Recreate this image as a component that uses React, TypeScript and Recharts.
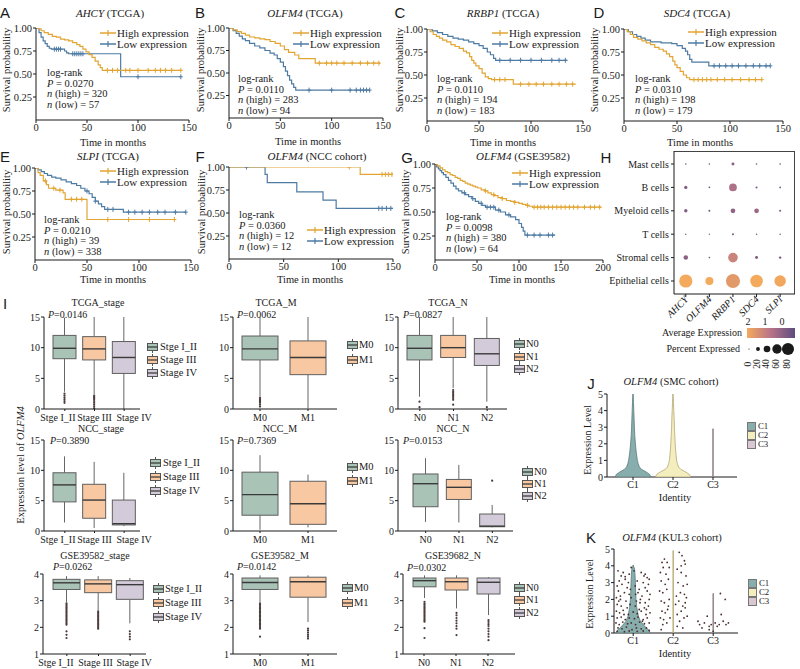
import React from 'react';
import { ComposedChart, Line, Scatter, XAxis, YAxis, Bar } from 'recharts';

const SERIF = '"Liberation Serif", "Times New Roman", serif';
const SANS = '"Liberation Sans", Arial, sans-serif';
const HIGH_C = '#e2a534';
const LOW_C = '#4e7ba4';
const INK = '#1a1a1a';

// ---------------- Kaplan-Meier data: [time, survival] ----------------
const A_HIGH = [[0,1],[3,0.99],[5,0.97],[8,0.95],[12,0.93],[16,0.91],[20,0.9],[24,0.88],[28,0.87],[32,0.86],[36,0.84],[40,0.82],[43,0.8],[46,0.77],[49,0.74],[52,0.71],[55,0.68],[58,0.64],[61,0.6],[63,0.57],[65,0.54],[142,0.54]];
const A_LOW = [[0,1],[3,0.95],[5,0.9],[7,0.86],[9,0.83],[11,0.8],[13,0.78],[15,0.77],[28,0.75],[30,0.73],[32,0.72],[83,0.47],[142,0.47]];
const A_HC = [70,75,80,88,92,100,110,117,122,127,133,142];
const A_LC = [18,20,22,24,36,38,40,42,44,46,100,142];

const B_HIGH = [[0,1],[4,0.98],[8,0.96],[12,0.94],[16,0.92],[20,0.9],[25,0.89],[30,0.88],[35,0.87],[40,0.85],[45,0.83],[50,0.8],[54,0.76],[58,0.73],[64,0.7],[68,0.66],[84,0.61],[147,0.61]];
const B_LOW = [[0,1],[4,0.97],[7,0.94],[10,0.91],[13,0.88],[16,0.86],[20,0.83],[25,0.8],[30,0.78],[35,0.75],[40,0.72],[44,0.7],[47,0.66],[50,0.62],[53,0.57],[55,0.52],[57,0.47],[59,0.42],[61,0.38],[63,0.34],[65,0.31],[137,0.31]];
const B_HC = [88,95,100,105,112,120,128,135,141,146];
const B_LC = [78,100,118,124,128,131,134,137];

const C_HIGH = [[0,1],[3,0.97],[6,0.94],[9,0.92],[12,0.9],[15,0.88],[19,0.86],[23,0.83],[27,0.81],[31,0.79],[35,0.76],[38,0.74],[41,0.7],[43,0.66],[45,0.63],[47,0.6],[50,0.57],[53,0.52],[56,0.48],[59,0.46],[62,0.45],[83,0.4],[143,0.4]];
const C_LOW = [[0,1],[5,0.98],[10,0.96],[15,0.94],[20,0.92],[25,0.9],[30,0.89],[35,0.88],[40,0.86],[45,0.84],[50,0.82],[54,0.79],[58,0.75],[61,0.72],[64,0.68],[66,0.66],[135,0.66]];
const C_HC = [65,70,75,90,98,105,112,120,127,134,140];
const C_LC = [70,80,90,100,110,120,127,133];

const D_HIGH = [[0,1],[3,0.97],[6,0.94],[9,0.91],[13,0.89],[17,0.87],[21,0.85],[25,0.83],[29,0.8],[33,0.78],[37,0.76],[40,0.73],[43,0.7],[46,0.65],[48,0.61],[50,0.58],[53,0.54],[56,0.5],[59,0.47],[62,0.45],[130,0.45]];
const D_LOW = [[0,1],[4,0.97],[8,0.94],[12,0.92],[16,0.9],[20,0.88],[25,0.86],[35,0.85],[45,0.84],[50,0.82],[55,0.79],[58,0.76],[60,0.72],[62,0.67],[64,0.64],[80,0.6],[138,0.6]];
const D_HC = [66,70,74,78,82,88,95,102,110,118,124,130];
const D_LC = [85,90,96,102,108,115,122,128,134,138];

const E_HIGH = [[0,1],[3,0.95],[5,0.92],[8,0.86],[11,0.82],[13,0.78],[20,0.76],[27,0.73],[29,0.66],[50,0.44],[134,0.44]];
const E_LOW = [[0,1],[3,0.98],[6,0.96],[9,0.94],[12,0.92],[16,0.9],[20,0.89],[25,0.87],[30,0.85],[35,0.83],[40,0.81],[44,0.78],[48,0.75],[52,0.72],[55,0.68],[58,0.64],[61,0.61],[64,0.58],[67,0.55],[85,0.52],[145,0.52]];
const E_HC = [10,18,24,35,40,45,70,90,110,134];
const E_LC = [50,58,70,75,90,96,103,110,118,125,135,145];

const F_HIGH = [[0,1],[120,0.92],[150,0.92]];
const F_LOW = [[0,1],[33,0.92],[35,0.83],[62,0.73],[86,0.64],[98,0.55],[150,0.55]];
const F_HC = [110,140,143,146,149];
const F_LC = [16,137,140,144,148];

const G_HIGH = [[0,1],[3,0.98],[6,0.96],[9,0.94],[12,0.92],[15,0.91],[18,0.89],[21,0.88],[24,0.86],[27,0.85],[30,0.83],[33,0.82],[36,0.8],[39,0.79],[42,0.78],[45,0.77],[48,0.76],[51,0.75],[55,0.73],[59,0.72],[63,0.7],[67,0.68],[71,0.67],[75,0.65],[80,0.64],[85,0.62],[90,0.61],[95,0.6],[100,0.59],[104,0.58],[108,0.57],[112,0.56],[116,0.55],[198,0.55]];
const G_LOW = [[0,1],[2,0.97],[4,0.95],[6,0.93],[8,0.91],[10,0.89],[13,0.86],[16,0.83],[19,0.8],[22,0.77],[25,0.74],[28,0.72],[32,0.7],[36,0.68],[40,0.66],[44,0.64],[48,0.61],[52,0.59],[56,0.57],[60,0.55],[72,0.52],[78,0.5],[84,0.47],[90,0.45],[96,0.42],[100,0.38],[103,0.34],[105,0.3],[107,0.26],[143,0.26]];
const G_HC = [60,70,80,95,110,118,122,126,130,135,140,145,150,155,160,165,170,178,185,190,196];
const G_LC = [35,45,55,62,66,70,76,88,110,118,125,135,140];

const KM_PANELS = [
  { letter: 'A', lx: 5, ly: 12, gene: 'AHCY', cohort: ' (TCGA)', tx: 110, ty: 13, plot: { l: 36, r: 189, t: 28, b: 120 }, xMax: 150, xTicks: [0, 50, 100, 150], high: A_HIGH, low: A_LOW, hc: A_HC, lc: A_LC, leg: { x: 100, y: 33 }, st: { x: 47, y: 73 }, p: '0.0270', nh: 320, nl: 57, ylx: 7, yly: 70, xlx: 113, xly: 143 },
  { letter: 'B', lx: 200, ly: 12, gene: 'OLFM4', cohort: ' (TCGA)', tx: 305, ty: 13, plot: { l: 229, r: 383, t: 28, b: 118 }, xMax: 150, xTicks: [0, 50, 100, 150], high: B_HIGH, low: B_LOW, hc: B_HC, lc: B_LC, leg: { x: 293, y: 33 }, st: { x: 238, y: 79 }, p: '0.0110', nh: 283, nl: 94, ylx: 201, yly: 70, xlx: 308, xly: 142 },
  { letter: 'C', lx: 400, ly: 12, gene: 'RRBP1', cohort: ' (TCGA)', tx: 503, ty: 13, plot: { l: 427, r: 583, t: 29, b: 121 }, xMax: 150, xTicks: [0, 50, 100, 150], high: C_HIGH, low: C_LOW, hc: C_HC, lc: C_LC, leg: { x: 492, y: 33 }, st: { x: 437, y: 79 }, p: '0.0110', nh: 194, nl: 183, ylx: 400, yly: 70, xlx: 503, xly: 143 },
  { letter: 'D', lx: 599, ly: 12, gene: 'SDC4', cohort: ' (TCGA)', tx: 697, ty: 13, plot: { l: 624, r: 783, t: 29, b: 121 }, xMax: 150, xTicks: [0, 50, 100, 150], high: D_HIGH, low: D_LOW, hc: D_HC, lc: D_LC, leg: { x: 688, y: 32 }, st: { x: 635, y: 79 }, p: '0.0310', nh: 198, nl: 179, ylx: 595, yly: 70, xlx: 700, xly: 143 },
  { letter: 'E', lx: 5, ly: 156, gene: 'SLPI', cohort: ' (TCGA)', tx: 108, ty: 156, plot: { l: 35, r: 191, t: 168, b: 260 }, xMax: 150, xTicks: [0, 50, 100, 150], high: E_HIGH, low: E_LOW, hc: E_HC, lc: E_LC, leg: { x: 100, y: 171 }, st: { x: 44, y: 220 }, p: '0.0210', nh: 39, nl: 338, ylx: 7, yly: 212, xlx: 113, xly: 280 },
  { letter: 'F', lx: 200, ly: 156, gene: 'OLFM4', cohort: ' (NCC cohort)', tx: 317, ty: 156, plot: { l: 229, r: 393, t: 167, b: 259 }, xMax: 150, xTicks: [0, 50, 100, 150], high: F_HIGH, low: F_LOW, hc: F_HC, lc: F_LC, leg: { x: 307, y: 230 }, st: { x: 239, y: 215 }, p: '0.0360', nh: 12, nl: 12, ylx: 202, yly: 212, xlx: 310, xly: 280 },
  { letter: 'G', lx: 407, ly: 157, gene: 'OLFM4', cohort: ' (GSE39582)', tx: 523, ty: 156, plot: { l: 435, r: 603, t: 164, b: 260 }, xMax: 200, xTicks: [0, 50, 100, 150, 200], high: G_HIGH, low: G_LOW, hc: G_HC, lc: G_LC, leg: { x: 512, y: 173 }, st: { x: 446, y: 217 }, p: '0.0098', nh: 380, nl: 64, ylx: 406, yly: 212, xlx: 522, xly: 280 },
];

// ---------------- Dot plot (H) ----------------
const GENES = ['AHCY', 'OLFM4', 'RRBP1', 'SDC4', 'SLPI'];
const CELLS = ['Epithelial cells', 'Stromal cells', 'T cells', 'Myeloid cells', 'B cells', 'Mast cells'];
const PCT = [
  [88, 50, 95, 84, 76],
  [24, 3, 62, 13, 9],
  [2, 1, 6, 2, 2],
  [16, 5, 26, 26, 6],
  [15, 3, 48, 6, 4],
  [3, 2, 13, 3, 3],
];
const AVG = [
  [2.0, 2.0, 1.7, 2.0, 1.95],
  [0.5, 0.2, 1.3, 0.4, 0.3],
  [0.2, 0.1, 0.3, 0.2, 0.2],
  [0.4, 0.2, 0.6, 0.7, 0.3],
  [0.4, 0.1, 0.9, 0.3, 0.2],
  [0.2, 0.1, 0.5, 0.2, 0.2],
];
const PCT_LEGEND = [0, 20, 40, 60, 80];
const AVG_LEGEND = ['2', '1', '0'];

// ---------------- Box plots (I): [lower whisker, q1, median, q3, upper whisker] ----------------
const STAGE_CATS = ['Stge I_II', 'Stage III', 'Stage IV'];
const M_CATS = ['M0', 'M1'];
const N_CATS = ['N0', 'N1', 'N2'];

const TCGA_STAGE = [[2.8, 8.2, 9.9, 12.0, 14.9], [2.4, 8.0, 9.8, 11.8, 15], [0, 5.8, 8.4, 11.0, 15]];
const TCGA_STAGE_OUT = [[2.5, 2.2, 1.9, 1.6, 1.3, 1.0], [2.2, 2.0, 1.8, 1.6, 1.3, 1.0, 0.7, 0.4, 0.1], []];
const TCGA_M = [[2.0, 8.0, 9.8, 11.9, 15], [0.1, 5.6, 8.4, 11.1, 15]];
const TCGA_M_OUT = [[1.8, 1.6, 1.4, 1.2, 1.0, 0.7, 0.4], []];
const TCGA_N = [[2.0, 8.0, 9.9, 12.0, 15], [3.4, 8.4, 10.0, 12.0, 15], [1.2, 7.1, 9.0, 11.5, 15]];
const TCGA_N_OUT = [[1.2, 0.3], [3.1, 2.8, 2.6, 2.3, 2.1, 1.8, 1.5, 0.7], [0.3]];

const NCC_STAGE = [[1.4, 4.8, 7.6, 9.6, 12.3], [0.5, 2.1, 5.1, 7.7, 11.4], [0.8, 1.0, 1.2, 5.1, 9.6]];
const NCC_M = [[0.2, 2.6, 6.0, 9.7, 12.5], [0.6, 1.1, 4.5, 8.2, 9.3]];
const NCC_N = [[1.5, 4.0, 7.8, 9.4, 12.0], [1.4, 5.2, 7.2, 8.5, 10.9], [0.6, 0.7, 0.8, 2.8, 4.3]];
const NCC_N_OUT = [[], [], [8.3]];

const GSE_STAGE = [[2.95, 3.42, 3.67, 3.8, 3.92], [2.65, 3.3, 3.63, 3.78, 3.92], [2.15, 3.05, 3.6, 3.75, 3.85]];
const GSE_STAGE_OUT = [
  [2.9, 2.85, 2.8, 2.75, 2.7, 2.65, 2.6, 2.55, 2.5, 2.45, 2.4, 2.35, 2.3, 2.25, 2.2, 2.15, 2.1, 1.85, 1.72, 1.6],
  [2.6, 2.55, 2.5, 2.45, 2.4, 2.35, 2.3, 2.25, 2.2, 2.15, 2.1, 2.05, 2.0, 1.95],
  [1.85, 1.75, 1.65, 1.55],
];
const GSE_M = [[2.95, 3.42, 3.68, 3.85, 3.95], [2.2, 3.13, 3.71, 3.88, 3.95]];
const GSE_M_OUT = [
  [2.9, 2.85, 2.8, 2.75, 2.7, 2.65, 2.6, 2.55, 2.5, 2.45, 2.4, 2.35, 2.3, 2.25, 2.2, 2.15, 2.1, 2.05, 2.0, 1.95, 1.65],
  [1.95, 1.88, 1.8, 1.72, 1.65, 1.58],
];
const GSE_N = [[3.1, 3.52, 3.75, 3.85, 3.95], [2.71, 3.4, 3.71, 3.85, 3.95], [2.46, 3.25, 3.69, 3.85, 3.88]];
const GSE_N_OUT = [
  [2.96, 2.9, 2.85, 2.8, 2.75, 2.7, 2.65, 2.6, 2.55, 2.5, 2.45, 2.4, 2.35, 2.3, 2.25, 2.21, 1.97, 1.6],
  [2.54, 2.45, 2.35, 2.25, 2.15, 2.05, 1.95, 1.71],
  [2.27, 2.2, 2.12, 2.05, 1.95, 1.85, 1.75, 1.65, 1.52],
];

const BOX_FILLS = ['#a9c3b7', '#f8c8a2', '#d3cbd9'];

const BOX_PANELS = [
  { title: 'TCGA_stage', tx: 98, ty: 303, p: '0.0146', px: 48, py: 315, plot: { l: 44, r: 140, t: 317, b: 409 }, mr: 22, dom: [0, 15], ticks: [0, 5, 10, 15], cats: STAGE_CATS, stats: TCGA_STAGE, outs: TCGA_STAGE_OUT, bar: 23, pad: { left: 6, right: 1 }, lab: [-7, 0, 10], leg: { ix: 152, tx: 160, ys: [347, 360, 373] } },
  { title: 'TCGA_M', tx: 276, ty: 303, p: '0.0062', px: 237, py: 315, plot: { l: 233, r: 337, t: 317, b: 409 }, mr: 2, dom: [0, 15], ticks: [0, 5, 10, 15], cats: M_CATS, stats: TCGA_M, outs: TCGA_M_OUT, bar: 36, pad: { left: 3, right: 5 }, lab: [0, 0], leg: { ix: 352, tx: 359, ys: [345, 360] } },
  { title: 'TCGA_N', tx: 448, ty: 303, p: '0.0827', px: 403, py: 315, plot: { l: 398, r: 507, t: 317, b: 409 }, mr: 2, dom: [0, 15], ticks: [0, 5, 10, 15], cats: N_CATS, stats: TCGA_N, outs: TCGA_N_OUT, bar: 25, pad: { left: 5, right: 3 }, lab: [0, 0, 0], leg: { ix: 519, tx: 526, ys: [344, 357, 369] } },
  { title: 'NCC_stage', tx: 101, ty: 429, p: '0.3890', px: 50, py: 441, plot: { l: 44, r: 140, t: 440, b: 531 }, mr: 22, dom: [0, 15], ticks: [0, 5, 10, 15], cats: STAGE_CATS, stats: NCC_STAGE, outs: [[], [], []], bar: 23, pad: { left: 6, right: 1 }, lab: [-7, 0, 10], leg: { ix: 155, tx: 163, ys: [463, 477, 491] } },
  { title: 'NCC_M', tx: 280, ty: 429, p: '0.7369', px: 237, py: 441, plot: { l: 233, r: 337, t: 440, b: 531 }, mr: 2, dom: [0, 15], ticks: [0, 5, 10, 15], cats: M_CATS, stats: NCC_M, outs: [[], []], bar: 36, pad: { left: 3, right: 5 }, lab: [0, 0], leg: { ix: 352, tx: 359, ys: [467, 481] } },
  { title: 'NCC_N', tx: 453, ty: 429, p: '0.0153', px: 403, py: 441, plot: { l: 398, r: 513, t: 440, b: 531 }, mr: 2, dom: [0, 15], ticks: [0, 5, 10, 15], cats: N_CATS, stats: NCC_N, outs: NCC_N_OUT, bar: 25, pad: { left: 11, right: 4 }, lab: [0, 0, 0], leg: { ix: 527, tx: 534, ys: [472, 484, 496] } },
  { title: 'GSE39582_stage', tx: 95, ty: 556, p: '0.0262', px: 53, py: 567, plot: { l: 43, r: 146, t: 574, b: 654 }, mr: 16, dom: [1, 4], ticks: [1, 2, 3, 4], cats: STAGE_CATS, stats: GSE_STAGE, outs: GSE_STAGE_OUT, bar: 27, pad: { left: 8, right: 0 }, lab: [-11, -3, 4], leg: { ix: 158, tx: 165, ys: [589, 603, 617] } },
  { title: 'GSE39582_M', tx: 280, ty: 556, p: '0.0142', px: 237, py: 567, plot: { l: 233, r: 337, t: 574, b: 654 }, mr: 2, dom: [1, 4], ticks: [1, 2, 3, 4], cats: M_CATS, stats: GSE_M, outs: GSE_M_OUT, bar: 36, pad: { left: 3, right: 5 }, lab: [0, 0], leg: { ix: 347, tx: 354, ys: [588, 603] } },
  { title: 'GSE39682_N', tx: 453, ty: 556, p: '0.0302', px: 407, py: 568, plot: { l: 403, r: 515, t: 574, b: 654 }, mr: 2, dom: [1, 4], ticks: [1, 2, 3, 4], cats: N_CATS, stats: GSE_N, outs: GSE_N_OUT, bar: 23, pad: { left: 5, right: 11 }, lab: [0, 0, 0], leg: { ix: 519, tx: 526, ys: [588, 600, 613] } },
];

// ---------------- Violins (J, K): [level, half width in category units] ----------------
const CLUSTERS = ['C1', 'C2', 'C3'];
const J_C1 = [[0, 0.44], [0.15, 0.42], [0.3, 0.33], [0.45, 0.22], [0.6, 0.16], [0.8, 0.13], [1, 0.11], [1.5, 0.08], [2, 0.06], [2.5, 0.045], [3, 0.035], [3.5, 0.028], [4, 0.02], [4.5, 0.012], [5, 0.004]];
const J_C2 = [[0, 0.44], [0.15, 0.41], [0.3, 0.32], [0.45, 0.2], [0.6, 0.14], [0.8, 0.11], [1, 0.09], [1.5, 0.07], [2, 0.055], [2.5, 0.045], [3, 0.035], [3.5, 0.03], [4, 0.02], [4.5, 0.012], [5, 0.004]];
const J_C3 = [[0, 0.008], [2.9, 0.008]];
const K_C1 = [[0, 0.42], [0.15, 0.4], [0.3, 0.33], [0.5, 0.25], [0.7, 0.18], [1, 0.13], [1.5, 0.09], [2, 0.07], [2.5, 0.06], [3, 0.055], [3.5, 0.045], [3.8, 0.035], [4.05, 0]];
const K_C2 = [[0, 0.008], [4.9, 0.008]];
const K_C3 = [[0, 0.008], [2.35, 0.008]];
const K_PTS = [
  [0.62,3.7],[0.7,3.4],[0.75,3.6],[0.9,3.5],[1.2,3.6],[1.3,3.5],[1.35,3.3],[0.65,3.1],[0.8,3.2],[1.1,3.1],[1.25,3.0],[1.4,3.2],[0.6,2.8],[0.72,2.9],[0.85,2.7],[1.05,2.8],[1.15,2.6],[1.3,2.7],[1.38,2.9],[0.63,2.5],[0.78,2.4],[0.9,2.3],[1.12,2.4],[1.22,2.2],[1.35,2.5],[1.42,2.3],[0.58,2.1],[0.68,2.0],[0.82,1.9],[0.95,2.1],[1.08,1.9],[1.18,2.0],[1.3,1.8],[1.4,2.0],[0.6,1.7],[0.7,1.6],[0.85,1.5],[0.92,1.7],[1.05,1.6],[1.15,1.4],[1.28,1.5],[1.38,1.6],[0.58,1.3],[0.66,1.2],[0.75,1.35],[0.88,1.1],[1.0,1.25],[1.1,1.15],[1.2,1.3],[1.32,1.1],[1.42,1.2],[0.6,0.9],[0.7,0.95],[0.8,0.8],[0.9,0.9],[1.03,0.85],[1.12,0.95],[1.25,0.8],[1.35,0.9],[0.57,0.6],[0.65,0.5],[0.74,0.65],[0.86,0.55],[0.95,0.6],[1.06,0.5],[1.16,0.65],[1.28,0.55],[1.4,0.6],[0.62,0.3],[0.72,0.25],[0.83,0.35],[0.97,0.2],[1.08,0.3],[1.2,0.25],[1.33,0.3],[0.6,0.1],[0.78,0.08],[0.9,0.12],[1.1,0.1],[1.25,0.12],[1.4,0.15],[0.95,3.9],[1.02,3.7],[0.68,2.2],[1.27,3.4],[0.88,3.0],[1.17,1.8],[0.77,1.1],[1.23,0.7],[0.93,2.6],[1.33,1.4],[0.64,1.9],[1.06,2.3],[0.8,3.35],
  [1.72,4.2],[1.78,4.4],[1.85,4.2],[1.9,3.9],[2.15,4.8],[2.22,4.6],[2.28,4.3],[2.3,4.1],[1.68,3.6],[1.75,3.9],[1.82,3.5],[2.1,3.8],[2.2,3.6],[2.32,3.4],[1.7,3.1],[1.8,2.9],[1.88,3.2],[2.12,3.0],[2.25,2.8],[2.35,2.9],[1.66,2.5],[1.74,2.4],[1.84,2.6],[2.08,2.2],[2.18,2.4],[2.28,2.3],[2.33,2.1],[1.7,1.9],[1.78,1.8],[1.9,2.0],[2.06,1.7],[2.14,1.9],[2.24,1.6],[2.3,1.5],[1.72,1.3],[1.8,1.2],[1.86,1.4],[2.1,1.1],[2.2,1.3],[2.35,1.0],[1.68,0.9],[1.76,0.8],[1.92,0.9],[2.16,0.7],[2.27,0.9],[1.74,0.5],[1.84,0.6],[2.1,0.4],[1.7,0.2],[2.24,0.3],[2.3,1.8],[1.88,1.6],[2.2,4.0],
  [2.62,0.7],[2.66,0.5],[2.72,0.3],[2.78,0.6],[2.85,1.0],[2.9,0.4],[2.95,0.5],[3.05,0.6],[3.1,0.4],[3.15,0.5],[3.2,1.1],[3.25,0.7],[3.32,0.5],[3.38,0.6],[3.18,2.35],[3.3,2.0],[2.9,0.2],[3.0,0.1],
];
const VIOLIN_FILLS = ['#87aead', '#f4edbd', '#d9c7d4'];
const VIOLIN_STROKES = ['#5b7b7a', '#b4a877', '#8a7a85'];

// ---------------- helpers ----------------
const Tx = ({ x, y, a = 's', s = 11, rot = 0, f = SERIF, c = INK, children }: any) => {
  const tx = a === 'm' ? '-50%' : a === 'e' ? '-100%' : '0%';
  return (
    <div
      style={{
        position: 'absolute', left: x, top: y,
        transform: `translate(${tx},-50%)${rot ? ` rotate(${rot}deg)` : ''}`,
        fontSize: s, fontFamily: f, color: c, whiteSpace: 'nowrap', lineHeight: 1,
      }}
    >
      {children}
    </div>
  );
};

const stepAt = (curve: number[][], t: number) => {
  let s = curve[0][1];
  for (const [tt, ss] of curve) {
    if (tt <= t) s = ss;
    else break;
  }
  return s;
};

const plusShape = (color: string) => (p: any) => (
  <g>
    <line x1={p.cx} x2={p.cx} y1={p.cy - 2.5} y2={p.cy + 2.5} stroke={color} strokeWidth={1} />
    <line x1={p.cx - 2} x2={p.cx + 2} y1={p.cy} y2={p.cy} stroke={color} strokeWidth={1} />
  </g>
);

const tickStyle = (size: number) => ({ fontSize: size, fill: INK, fontFamily: SERIF });

const KMKey = ({ x, y, color }: any) => (
  <svg style={{ position: 'absolute', left: x, top: y - 4 }} width={16} height={8}>
    <line x1={0} x2={16} y1={4} y2={4} stroke={color} strokeWidth={1.5} />
    <line x1={8} x2={8} y1={1} y2={7} stroke={color} strokeWidth={1.2} />
  </svg>
);

function KMBlock({ p }: any) {
  const yw = 40, mt = 6, mr = 10, xh = 22;
  const w = p.plot.r - p.plot.l + yw + mr;
  const h = p.plot.b - p.plot.t + mt + xh;
  const hi = p.high.map(([t, s]: number[]) => ({ t, s }));
  const lo = p.low.map(([t, s]: number[]) => ({ t, s }));
  const hc = p.hc.map((t: number) => ({ t, s: stepAt(p.high, t) }));
  const lc = p.lc.map((t: number) => ({ t, s: stepAt(p.low, t) }));
  const lh = 10.5;
  return (
    <>
      <Tx x={p.lx} y={p.ly} a="m" s={15} f={SANS}>{p.letter}</Tx>
      <Tx x={p.tx} y={p.ty} a="m" s={11}><i>{p.gene}</i>{p.cohort}</Tx>
      <div style={{ position: 'absolute', left: p.plot.l - yw, top: p.plot.t - mt }}>
        <ComposedChart width={w} height={h} margin={{ top: mt, right: mr, bottom: 0, left: 0 }}>
          <XAxis type="number" dataKey="t" domain={[0, p.xMax]} ticks={p.xTicks} allowDataOverflow interval={0}
            height={xh} tickSize={3} tickMargin={1} tick={tickStyle(10.5)} axisLine={{ stroke: INK }} tickLine={{ stroke: INK }} />
          <YAxis type="number" domain={[0, 1]} ticks={[0.25, 0.5, 0.75, 1]} allowDataOverflow interval={0}
            tickFormatter={(v: number) => v.toFixed(2)} width={yw} tickSize={3} tickMargin={1} tick={tickStyle(10.5)}
            axisLine={{ stroke: INK }} tickLine={{ stroke: INK }} />
          <Line data={lo} dataKey="s" type="stepAfter" stroke={LOW_C} strokeWidth={1.2} dot={false} isAnimationActive={false} />
          <Line data={hi} dataKey="s" type="stepAfter" stroke={HIGH_C} strokeWidth={1.2} dot={false} isAnimationActive={false} />
          <Scatter data={lc} dataKey="s" shape={plusShape(LOW_C)} isAnimationActive={false} />
          <Scatter data={hc} dataKey="s" shape={plusShape(HIGH_C)} isAnimationActive={false} />
        </ComposedChart>
      </div>
      <Tx x={p.ylx} y={p.yly} a="m" rot={-90} s={10.5}>Survival probability</Tx>
      <Tx x={p.xlx} y={p.xly} a="m" s={10.5}>Time in months</Tx>
      <KMKey x={p.leg.x} y={p.leg.y} color={HIGH_C} />
      <KMKey x={p.leg.x} y={p.leg.y + 11} color={LOW_C} />
      <Tx x={p.leg.x + 17} y={p.leg.y} s={11}>High expression</Tx>
      <Tx x={p.leg.x + 17} y={p.leg.y + 11} s={11}>Low expression</Tx>
      <Tx x={p.st.x} y={p.st.y} s={10.5}>log-rank</Tx>
      <Tx x={p.st.x} y={p.st.y + lh} s={10.5}><i>P</i> = {p.p}</Tx>
      <Tx x={p.st.x} y={p.st.y + 2 * lh} s={10.5}><i>n</i> (high) = {p.nh}</Tx>
      <Tx x={p.st.x} y={p.st.y + 3 * lh} s={10.5}><i>n</i> (low) = {p.nl}</Tx>
    </>
  );
}

// colour scale for average expression
const lerpHex = (a: string, b: string, t: number) => {
  const pa = [1, 3, 5].map((i) => parseInt(a.slice(i, i + 2), 16));
  const pb = [1, 3, 5].map((i) => parseInt(b.slice(i, i + 2), 16));
  return '#' + pa.map((v, i) => Math.round(v + (pb[i] - v) * t).toString(16).padStart(2, '0')).join('');
};
const EXP_LOW = '#5e4c7e', EXP_MID = '#b7738a', EXP_HIGH = '#f4aa5c';
const expColor = (v: number) => (v <= 1 ? lerpHex(EXP_LOW, EXP_MID, Math.max(0, v)) : lerpHex(EXP_MID, EXP_HIGH, Math.min(1, v - 1)));
const pctRadius = (p: number) => 0.6 + 0.068 * p;

function DotPlot() {
  const data: any[] = [];
  CELLS.forEach((cell, ci) => GENES.forEach((g, gi) => data.push({ x: gi + 1, y: ci + 1, pct: PCT[ci][gi], avg: AVG[ci][gi] })));
  const plot = { l: 674, r: 795, t: 151, b: 294 };
  const yw = 78, mt = 4, mr = 4, xh = 40;
  const dot = (p: any) => <circle cx={p.cx} cy={p.cy} r={pctRadius(p.payload.pct)} fill={expColor(p.payload.avg)} />;
  const geneTick = (p: any) => (
    <text x={p.x + 3} y={p.y + 1} transform={`rotate(-45 ${p.x + 3} ${p.y + 1})`} textAnchor="end" fontSize={10} fontStyle="italic" fontFamily={SERIF} fill={INK}>
      {GENES[p.payload.value - 1]}
    </text>
  );
  const cellTick = (p: any) => (
    <text x={p.x} y={p.y} dy="0.35em" textAnchor="end" fontSize={10} fontFamily={SERIF} fill={INK}>
      {CELLS[p.payload.value - 1]}
    </text>
  );
  return (
    <>
      <Tx x={606} y={157} a="m" s={15} f={SANS}>H</Tx>
      <div style={{ position: 'absolute', left: plot.l, top: plot.t, width: plot.r - plot.l, height: plot.b - plot.t, borderTop: '1px solid #444', borderRight: '1px solid #444', boxSizing: 'border-box' }} />
      <div style={{ position: 'absolute', left: plot.l - yw, top: plot.t - mt }}>
        <ComposedChart width={plot.r - plot.l + yw + mr} height={plot.b - plot.t + mt + xh} margin={{ top: mt, right: mr, bottom: 0, left: 0 }}>
          <XAxis type="number" dataKey="x" domain={[0.5, 5.63]} ticks={[1, 2, 3, 4, 5]} allowDataOverflow interval={0} height={xh}
            tickSize={3} tick={geneTick} axisLine={{ stroke: INK }} tickLine={{ stroke: INK }} />
          <YAxis type="number" dataKey="y" domain={[0.444, 6.556]} ticks={[1, 2, 3, 4, 5, 6]} allowDataOverflow interval={0} width={yw}
            tickSize={3} tickMargin={2} tick={cellTick} axisLine={{ stroke: INK }} tickLine={{ stroke: INK }} />
          <Scatter data={data} shape={dot} isAnimationActive={false} />
        </ComposedChart>
      </div>
      <Tx x={742} y={333} a="e" s={10}>Average Expression</Tx>
      <svg style={{ position: 'absolute', left: 747, top: 328 }} width={48} height={10}>
        <defs>
          <linearGradient id="expGrad" x1="0" x2="1" y1="0" y2="0">
            <stop offset="0%" stopColor={EXP_HIGH} />
            <stop offset="50%" stopColor={EXP_MID} />
            <stop offset="100%" stopColor={EXP_LOW} />
          </linearGradient>
        </defs>
        <rect x={0} y={0} width={48} height={10} fill="url(#expGrad)" />
      </svg>
      {AVG_LEGEND.map((l, i) => <Tx key={l} x={748 + i * 17} y={322} a="m" s={10}>{l}</Tx>)}
      <Tx x={740} y={349} a="e" s={10}>Percent Expressed</Tx>
      <svg style={{ position: 'absolute', left: 742, top: 341 }} width={56} height={16}>
        {PCT_LEGEND.map((v, i) => {
          const cx = [7, 16, 25, 35, 46][i];
          return <circle key={v} cx={cx} cy={8} r={pctRadius(v)} fill="#1a1a1a" />;
        })}
      </svg>
      {PCT_LEGEND.map((v, i) => <Tx key={v} x={[749, 758, 767, 777, 788][i]} y={364} a="m" rot={-90} s={9.5}>{String(v)}</Tx>)}
    </>
  );
}

const BoxKey = ({ x, y, fill }: any) => (
  <svg style={{ position: 'absolute', left: x - 5.5, top: y - 6 }} width={11} height={12}>
    <line x1={5.5} x2={5.5} y1={0} y2={2.5} stroke="#555" />
    <line x1={5.5} x2={5.5} y1={9.5} y2={12} stroke="#555" />
    <rect x={0.5} y={2.5} width={10} height={7} fill={fill} stroke="#555" />
    <line x1={0.5} x2={10.5} y1={6} y2={6} stroke="#333" strokeWidth={1.2} />
  </svg>
);

const boxShape = (p: any) => {
  const d = p.payload;
  if (!d) return <g />;
  const top = Math.min(p.y, p.y + p.height);
  const hgt = Math.abs(p.height);
  const span = d.max - d.min || 1;
  const py = (v: number) => top + (hgt * (d.max - v)) / span;
  const cx = p.x + p.width / 2;
  const fill = BOX_FILLS[d.ci];
  return (
    <g>
      <line x1={cx} x2={cx} y1={py(d.hi)} y2={py(d.q3)} stroke="#666" strokeWidth={1} />
      <line x1={cx} x2={cx} y1={py(d.q1)} y2={py(d.lo)} stroke="#666" strokeWidth={1} />
      <rect x={p.x} y={py(d.q3)} width={p.width} height={Math.max(0.5, py(d.q1) - py(d.q3))} fill={fill} stroke="#5f5f5f" strokeWidth={1} />
      <line x1={p.x} x2={p.x + p.width} y1={py(d.med)} y2={py(d.med)} stroke="#3a3a3a" strokeWidth={1.4} />
      {d.out.map((v: number, i: number) => <circle key={i} cx={cx} cy={py(v)} r={1.1} fill="#4a3a3a" />)}
    </g>
  );
};

function BoxBlock({ b }: any) {
  const yw = 22, mt = 4, mr = b.mr, xh = 18;
  const data = b.cats.map((name: string, i: number) => {
    const s = b.stats[i];
    const out = b.outs[i] || [];
    const all = [s[0], s[4], ...out];
    return { name, lo: s[0], q1: s[1], med: s[2], q3: s[3], hi: s[4], out, min: Math.min(...all), max: Math.max(...all), ci: i };
  });
  const catTick = (p: any) => (
    <text x={p.x + (b.lab[p.index] || 0)} y={p.y + 2} dy="0.71em" textAnchor="middle" fontSize={10} fontFamily={SERIF} fill={INK}>
      {p.payload.value}
    </text>
  );
  return (
    <>
      <Tx x={b.tx} y={b.ty} a="m" s={10}>{b.title}</Tx>
      <Tx x={b.px} y={b.py} s={10}><i>P</i>=0.{b.p.slice(2)}</Tx>
      <div style={{ position: 'absolute', left: b.plot.l - yw, top: b.plot.t - mt }}>
        <ComposedChart width={b.plot.r - b.plot.l + yw + mr} height={b.plot.b - b.plot.t + mt + xh} data={data} margin={{ top: mt, right: mr, bottom: 0, left: 0 }}>
          <XAxis dataKey="name" type="category" padding={b.pad} height={xh} tickSize={2} tickMargin={1} interval={0}
            tick={catTick} axisLine={{ stroke: INK }} tickLine={{ stroke: INK }} />
          <YAxis type="number" domain={b.dom} ticks={b.ticks} allowDataOverflow interval={0} width={yw} tickSize={3} tickMargin={1}
            tick={tickStyle(10)} axisLine={{ stroke: INK }} tickLine={{ stroke: INK }} />
          <Bar dataKey={(d: any) => [d.min, d.max]} barSize={b.bar} shape={boxShape} isAnimationActive={false} />
        </ComposedChart>
      </div>
      {b.cats.map((c: string, i: number) => (
        <React.Fragment key={c}>
          <BoxKey x={b.leg.ix} y={b.leg.ys[i]} fill={BOX_FILLS[i]} />
          <Tx x={b.leg.tx} y={b.leg.ys[i]} s={10.5}>{c}</Tx>
        </React.Fragment>
      ))}
    </>
  );
}

const violinPoly = (c: number, prof: number[][]) => [
  ...prof.map(([v, w]) => ({ x: c + w, y: v })),
  ...prof.slice().reverse().map(([v, w]) => ({ x: c - w, y: v })),
  { x: c + prof[0][1], y: prof[0][0] },
];
const noShape = () => <g />;

function ViolinBlock({ v }: any) {
  const yw = 14, mt = 4, mr = 2, xh = 16;
  const pts = (v.points || []).map(([x, y]: number[]) => ({ x, y }));
  const ptShape = (p: any) => <circle cx={p.cx} cy={p.cy} r={0.9} fill="#4a2c2c" />;
  const step = 9;
  return (
    <>
      <Tx x={v.lx} y={v.ly} a="m" s={15} f={SANS}>{v.letter}</Tx>
      <Tx x={v.tx} y={v.ty} a="m" s={10.5}><i>OLFM4</i>{v.cohort}</Tx>
      <Tx x={v.ylx} y={v.yly} a="m" rot={-90} s={10}>Expression Level</Tx>
      <div style={{ position: 'absolute', left: v.plot.l - yw, top: v.plot.t - mt }}>
        <ComposedChart width={v.plot.r - v.plot.l + yw + mr} height={v.plot.b - v.plot.t + mt + xh} margin={{ top: mt, right: mr, bottom: 0, left: 0 }}>
          <XAxis type="number" dataKey="x" domain={v.xDom} ticks={[1, 2, 3]} allowDataOverflow interval={0} height={xh}
            tickFormatter={(t: number) => CLUSTERS[t - 1]} tickSize={3} tickMargin={1} tick={tickStyle(10)} axisLine={{ stroke: INK }} tickLine={{ stroke: INK }} />
          <YAxis type="number" dataKey="y" domain={[0, 5]} ticks={[0, 1, 2, 3, 4, 5]} allowDataOverflow interval={0} width={yw}
            tickSize={3} tickMargin={1} tick={tickStyle(10)} axisLine={{ stroke: INK }} tickLine={{ stroke: INK }} />
          {v.violins.map((prof: number[][], i: number) => (
            <Scatter key={i} data={violinPoly(i + 1, prof)} shape={noShape} lineType="joint"
              line={{ fill: VIOLIN_FILLS[i], stroke: VIOLIN_STROKES[i], strokeWidth: 0.8 }} isAnimationActive={false} />
          ))}
          {pts.length > 0 && <Scatter data={pts} shape={ptShape} isAnimationActive={false} />}
        </ComposedChart>
      </div>
      <Tx x={v.idx} y={v.idy} a="m" s={10.5}>Identity</Tx>
      {CLUSTERS.map((c, i) => (
        <React.Fragment key={c}>
          <div style={{ position: 'absolute', left: v.legX, top: v.legY + i * step - step / 2, width: 9, height: step, background: VIOLIN_FILLS[i], border: '0.8px solid #777', boxSizing: 'border-box' }} />
          <Tx x={v.legX + 11} y={v.legY + i * step} s={8.8}>{c}</Tx>
        </React.Fragment>
      ))}
    </>
  );
}

const VIOLIN_PANELS = [
  { letter: 'J', lx: 591, ly: 383, cohort: ' (SMC cohort)', tx: 671, ty: 382, plot: { l: 607, r: 737, t: 394, b: 477 }, xDom: [0.35, 3.6], violins: [J_C1, J_C2, J_C3], points: [], ylx: 588, yly: 440, idx: 675, idy: 498, legX: 747, legY: 426 },
  { letter: 'K', lx: 591, ly: 537, cohort: ' (KUL3 cohort)', tx: 672, ty: 538, plot: { l: 614, r: 738, t: 549, b: 633 }, xDom: [0.52, 3.62], violins: [K_C1, K_C2, K_C3], points: K_PTS, ylx: 590, yly: 594, idx: 675, idy: 654, legX: 748, legY: 583 },
];

export default function App() {
  return (
    <div style={{ position: 'absolute', left: 0, top: 0, width: 800, height: 669, background: '#fff', overflow: 'hidden', fontFamily: SERIF, color: INK }}>
      {KM_PANELS.map((p) => <KMBlock key={p.letter} p={p} />)}
      <DotPlot />
      <Tx x={5} y={303} a="m" s={15} f={SANS}>I</Tx>
      <Tx x={21} y={465} a="m" rot={-90} s={10.5}>Expression level of <i>OLFM4</i></Tx>
      {BOX_PANELS.map((b) => <BoxBlock key={b.title} b={b} />)}
      {VIOLIN_PANELS.map((v) => <ViolinBlock key={v.letter} v={v} />)}
    </div>
  );
}
